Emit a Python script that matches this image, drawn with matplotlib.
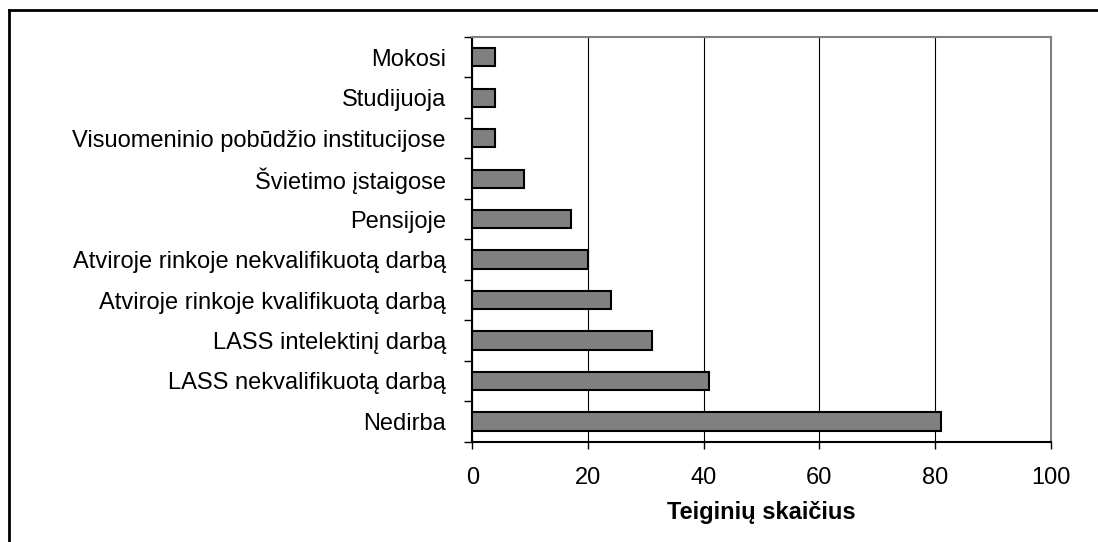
import matplotlib
matplotlib.use("Agg")
import matplotlib.pyplot as plt
from matplotlib.lines import Line2D

categories = ["Nedirba", "LASS nekvalifikuotą darbą", "LASS intelektinį darbą",
              "Atviroje rinkoje kvalifikuotą darbą", "Atviroje rinkoje nekvalifikuotą darbą",
              "Pensijoje", "Švietimo įstaigose", "Visuomeninio pobūdžio institucijose",
              "Studijuoja", "Mokosi"]
values = [81, 41, 31, 24, 20, 17, 9, 4, 4, 4]
xticks = [0, 20, 40, 60, 80, 100]
xlabel = "Teiginių skaičius"

plt.rcParams['font.family'] = ['Liberation Sans', 'DejaVu Sans']

W, H = 1098, 542
fig = plt.figure(figsize=(W / 100, H / 100), dpi=100)
ax = fig.add_axes([472.3 / W, 1 - 441.7 / H, (1050.7 - 472.3) / W, (441.7 - 37) / H])

y = list(range(len(categories)))
ax.barh(y, values, height=0.45, color="#808080", edgecolor="black", linewidth=1.5, zorder=3)

ax.set_xlim(0, 100)
ax.set_ylim(-0.5, len(categories) - 0.5)
ax.set_xticks(xticks)
ax.set_xticklabels([str(t) for t in xticks], fontsize=17)
ax.tick_params(axis="x", direction="out", length=5, width=1, pad=13, colors="black")

ax.set_yticks(y)
ax.set_yticklabels(categories, fontsize=17)
ax.tick_params(axis="y", which="major", length=0, pad=19)
ax.set_yticks([i - 0.5 for i in range(len(categories) + 1)], minor=True)
ax.tick_params(axis="y", which="minor", direction="out", length=6, width=1, color="black")

ax.xaxis.grid(True, color="black", linewidth=0.8)
ax.set_axisbelow(True)

for s in ["left", "bottom"]:
    ax.spines[s].set_color("black")
    ax.spines[s].set_linewidth(1.5)
for s in ["top", "right"]:
    ax.spines[s].set_color("#808080")
    ax.spines[s].set_linewidth(1.5)

ax.set_xlabel(xlabel, fontsize=17, fontweight="bold", labelpad=9)

# outer frame
fig.add_artist(Line2D([9 / W, 9 / W], [-0.1, 1 - 10 / H], transform=fig.transFigure, color="black", linewidth=2))
fig.add_artist(Line2D([9 / W, 1.1], [1 - 10 / H, 1 - 10 / H], transform=fig.transFigure, color="black", linewidth=2))

fig.savefig("out.png", dpi=100)
